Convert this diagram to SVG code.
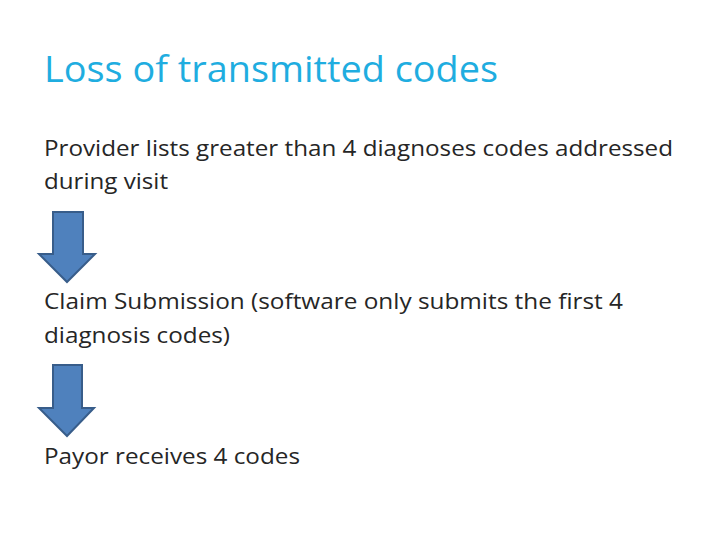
<svg xmlns="http://www.w3.org/2000/svg" width="720" height="540" viewBox="0 0 720 540">
<style>
.title{font-family:"Open Sans","Liberation Sans",sans-serif;font-size:37px;fill:#1fade0}
.body{font-family:"Open Sans","Liberation Sans",sans-serif;font-size:22px;fill:#262626}
.arrow{fill:#4f81bd;stroke:#385d8a;stroke-width:2;stroke-linejoin:miter}
</style>
<rect width="720" height="540" fill="#ffffff"/>
<g id="title"><text class="title" x="44" y="82" textLength="454" lengthAdjust="spacingAndGlyphs">Loss of transmitted codes</text></g>
<g id="step1">
<text class="body" x="44" y="156" textLength="629" lengthAdjust="spacingAndGlyphs">Provider lists greater than 4 diagnoses codes addressed</text>
<text class="body" x="44" y="189" textLength="124" lengthAdjust="spacingAndGlyphs">during visit</text>
</g>
<g id="step2">
<text class="body" x="44" y="309" textLength="579" lengthAdjust="spacingAndGlyphs">Claim Submission (software only submits the first 4</text>
<text class="body" x="44" y="343" textLength="186" lengthAdjust="spacingAndGlyphs">diagnosis codes)</text>
</g>
<g id="step3">
<text class="body" x="44" y="464" textLength="256" lengthAdjust="spacingAndGlyphs">Payor receives 4 codes</text>
</g>
<g id="connectors">
<polygon class="arrow" points="53,212 83,212 83,254 95,254 67,282 39,254 53,254"/>
<polygon class="arrow" points="53,365 82,365 82,408 94,408 67,436 39,408 53,408"/>
</g>
</svg>
